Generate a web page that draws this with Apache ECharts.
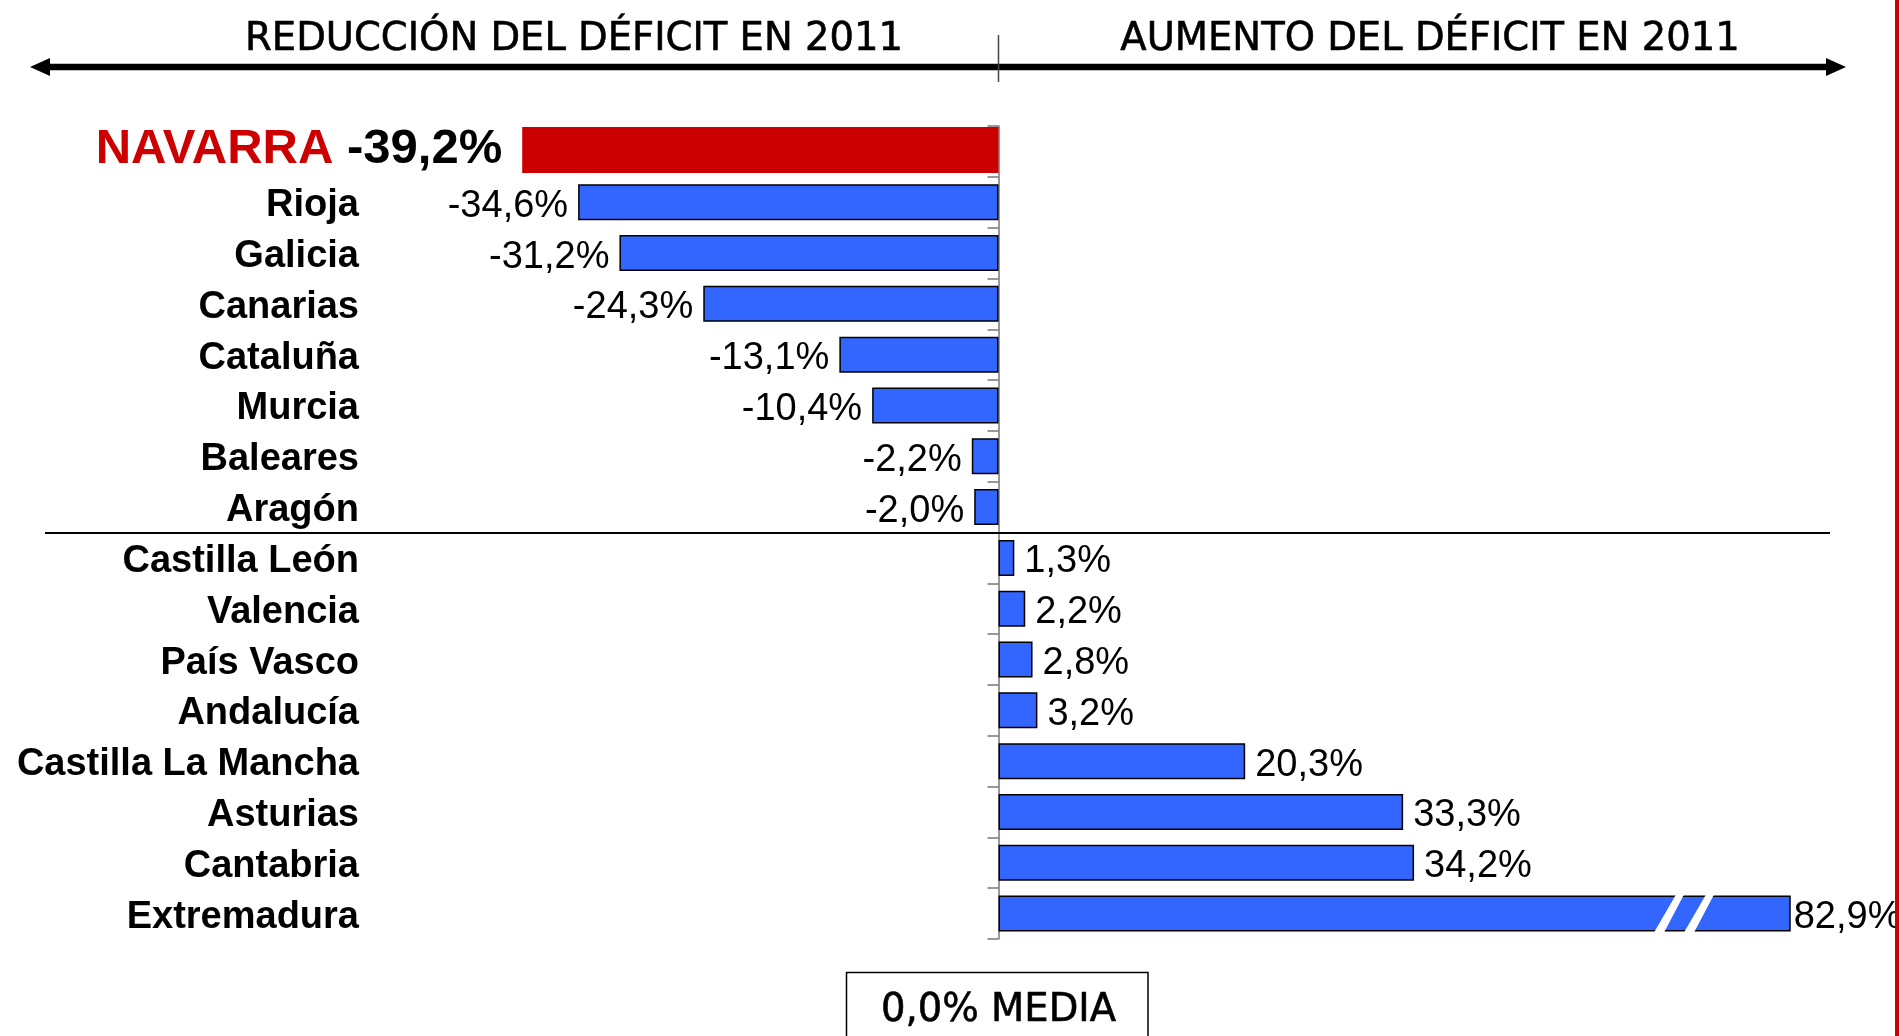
<!DOCTYPE html>
<html>
<head>
<meta charset="utf-8">
<script src="https://cdn.jsdelivr.net/npm/echarts@6/dist/echarts.min.js"></script>
<style>
  html, body { margin: 0; padding: 0; background: #ffffff; }
  #chart { width: 1899px; height: 1036px; }
</style>
</head>
<body>
<div id="chart"></div>
<script>
// ---- data ----
const categories = ['NAVARRA', 'Rioja', 'Galicia', 'Canarias', 'Cataluña', 'Murcia', 'Baleares', 'Aragón',
  'Castilla León', 'Valencia', 'País Vasco', 'Andalucía', 'Castilla La Mancha', 'Asturias', 'Cantabria', 'Extremadura'];
const deficitChange = [-39.2, -34.6, -31.2, -24.3, -13.1, -10.4, -2.2, -2.0,
  1.3, 2.2, 2.8, 3.2, 20.3, 33.3, 34.2, 82.9];
const highlighted = 'NAVARRA';
const brokenBar = 'Extremadura';
const axisBreak = { start: 56.5, end: 74.2 };
const headerLeft = 'REDUCCIÓN DEL DÉFICIT EN 2011';
const headerRight = 'AUMENTO DEL DÉFICIT EN 2011';
const averageLabel = '0,0% MEDIA';

// ---- helpers ----
const fmt = v => (v < 0 ? '-' : '') + Math.abs(v).toFixed(1).replace('.', ',') + '%';
const hiIdx = categories.indexOf(highlighted);
const brokenIdx = categories.indexOf(brokenBar);

const BLUE = '#3366FF';
const RED = '#CC0000';
const LABEL_FONT = 'Liberation Sans, Arial, sans-serif';
const TITLE_FONT = 'DejaVu Sans, Verdana, sans-serif';

const barData = deficitChange.map((v, i) => {
  if (i === hiIdx) return '-';
  return {
    value: v,
    label: {
      position: v < 0 ? 'left' : 'right',
      distance: i === brokenIdx ? 3 : 10
    }
  };
});

const chart = echarts.init(document.getElementById('chart'), null, { renderer: 'canvas' });

const option = {
  backgroundColor: '#ffffff',
  animation: false,
  grid: [
    { left: 391, right: 22, top: 126, bottom: 97, containLabel: false },
    // label grid (same rows, text baseline nudged down slightly as in the reference)
    { left: 391, right: 22, top: 129.5, bottom: 93.5, containLabel: false }
  ],
  xAxis: [
    {
      type: 'value',
      gridIndex: 0,
      min: -50,
      max: 90,
      show: false,
      breaks: [{ start: axisBreak.start, end: axisBreak.end, gap: 0 }],
      breakArea: { show: false }
    },
    { type: 'value', gridIndex: 1, min: -50, max: 90, show: false }
  ],
  yAxis: [
    {
      type: 'category',
      gridIndex: 0,
      data: categories,
      inverse: true,
      axisLine: { show: true, onZero: true, lineStyle: { color: '#777777', width: 1.5 } },
      axisTick: { show: true, length: 11, lineStyle: { color: '#777777', width: 1.5 } },
      axisLabel: { show: false },
      splitLine: { show: false }
    },
    {
      type: 'category',
      gridIndex: 1,
      data: categories,
      inverse: true,
      position: 'left',
      axisLine: { show: false, onZero: false },
      axisTick: { show: false },
      splitLine: { show: false },
      axisLabel: {
        show: true,
        interval: 0,
        margin: 32,
        color: '#000000',
        fontFamily: LABEL_FONT,
        fontWeight: 'bold',
        fontSize: 38,
        formatter: (val) => (val === highlighted ? '' : val)
      }
    }
  ],
  series: [
    {
      type: 'bar',
      xAxisIndex: 0,
      yAxisIndex: 0,
      data: barData,
      barWidth: 36,
      itemStyle: { color: BLUE, borderColor: '#000000', borderWidth: 1.5 },
      label: {
        show: true,
        color: '#000000',
        fontFamily: LABEL_FONT,
        fontSize: 38,
        offset: [0, 4],
        formatter: p => fmt(p.value)
      },
      z: 2
    },
    {
      // highlighted (thicker) bar
      type: 'custom',
      xAxisIndex: 0,
      yAxisIndex: 0,
      encode: { x: 0, y: 1 },
      data: [[deficitChange[hiIdx], hiIdx]],
      renderItem: (params, api) => {
        const v = api.value(0);
        const c = api.value(1);
        const p0 = api.coord([0, c]);
        const p1 = api.coord([v, c]);
        const band = api.size([0, 1])[1];
        const h = band * 0.905;
        return {
          type: 'rect',
          shape: { x: Math.min(p0[0], p1[0]), y: p0[1] - h / 2 - 1.5, width: Math.abs(p1[0] - p0[0]), height: h },
          style: { fill: RED },
          textContent: {
            style: {
              text: '{n|' + highlighted + '} {v|' + fmt(v) + '}',
              rich: {
                n: { fontFamily: LABEL_FONT, fontWeight: 'bold', fontSize: 49, fill: RED },
                v: { fontFamily: LABEL_FONT, fontWeight: 'bold', fontSize: 49, fill: '#000000' }
              },
              fontFamily: LABEL_FONT, fontWeight: 'bold', fontSize: 49
            }
          },
          textConfig: { position: 'left', distance: 20 }
        };
      },
      z: 3
    },
    {
      // break marks on the truncated bar
      type: 'custom',
      xAxisIndex: 0,
      yAxisIndex: 0,
      encode: { x: 0, y: 1 },
      data: [[axisBreak.start, brokenIdx]],
      renderItem: (params, api) => {
        const p = api.coord([api.value(0), api.value(1)]);
        const cx = p[0], cy = p[1];
        const top = cy - 19, bot = cy + 19;
        const slash = (dx) => ({
          type: 'polygon',
          shape: { points: [[cx + dx - 31, bot], [cx + dx - 21, bot], [cx + dx - 1, top], [cx + dx - 9, top]] },
          style: { fill: '#ffffff' }
        });
        return { type: 'group', children: [slash(0), slash(30)] };
      },
      z: 4
    }
  ],
  graphic: [
    // header arrow
    { type: 'line', shape: { x1: 46, y1: 67, x2: 1830, y2: 67 }, style: { stroke: '#000000', lineWidth: 6.5 }, z: 10 },
    { type: 'polygon', shape: { points: [[30, 67], [50, 58], [50, 76]] }, style: { fill: '#000000' }, z: 10 },
    { type: 'polygon', shape: { points: [[1846, 67], [1826, 58], [1826, 76]] }, style: { fill: '#000000' }, z: 10 },
    { type: 'line', shape: { x1: 998.5, y1: 35, x2: 998.5, y2: 82 }, style: { stroke: '#444444', lineWidth: 1.5 }, z: 11 },
    {
      type: 'text', x: 574, y: 40, z: 10,
      style: { text: headerLeft, fontFamily: TITLE_FONT, fontSize: 38.5, fill: '#000000', stroke: '#000000', lineWidth: 0.6, align: 'center', verticalAlign: 'middle' }
    },
    {
      type: 'text', x: 1430, y: 40, z: 10,
      style: { text: headerRight, fontFamily: TITLE_FONT, fontSize: 38.5, fill: '#000000', stroke: '#000000', lineWidth: 0.6, align: 'center', verticalAlign: 'middle' }
    },
    // separator between reduction and increase
    { type: 'line', shape: { x1: 45, y1: 533, x2: 1830, y2: 533 }, style: { stroke: '#000000', lineWidth: 2 }, z: 10 },
    // average box
    { type: 'rect', shape: { x: 846.5, y: 972.5, width: 301.5, height: 80 }, style: { fill: '#ffffff', stroke: '#000000', lineWidth: 1.5 }, z: 10 },
    {
      type: 'text', x: 998.5, y: 1011, z: 11,
      style: { text: averageLabel, fontFamily: TITLE_FONT, fontSize: 38.5, fill: '#000000', stroke: '#000000', lineWidth: 0.6, align: 'center', verticalAlign: 'middle' }
    },
    // right border
    { type: 'rect', shape: { x: 1895, y: 0, width: 4, height: 1036 }, style: { fill: RED }, z: 20 }
  ]
};

chart.setOption(option);
</script>
</body>
</html>
